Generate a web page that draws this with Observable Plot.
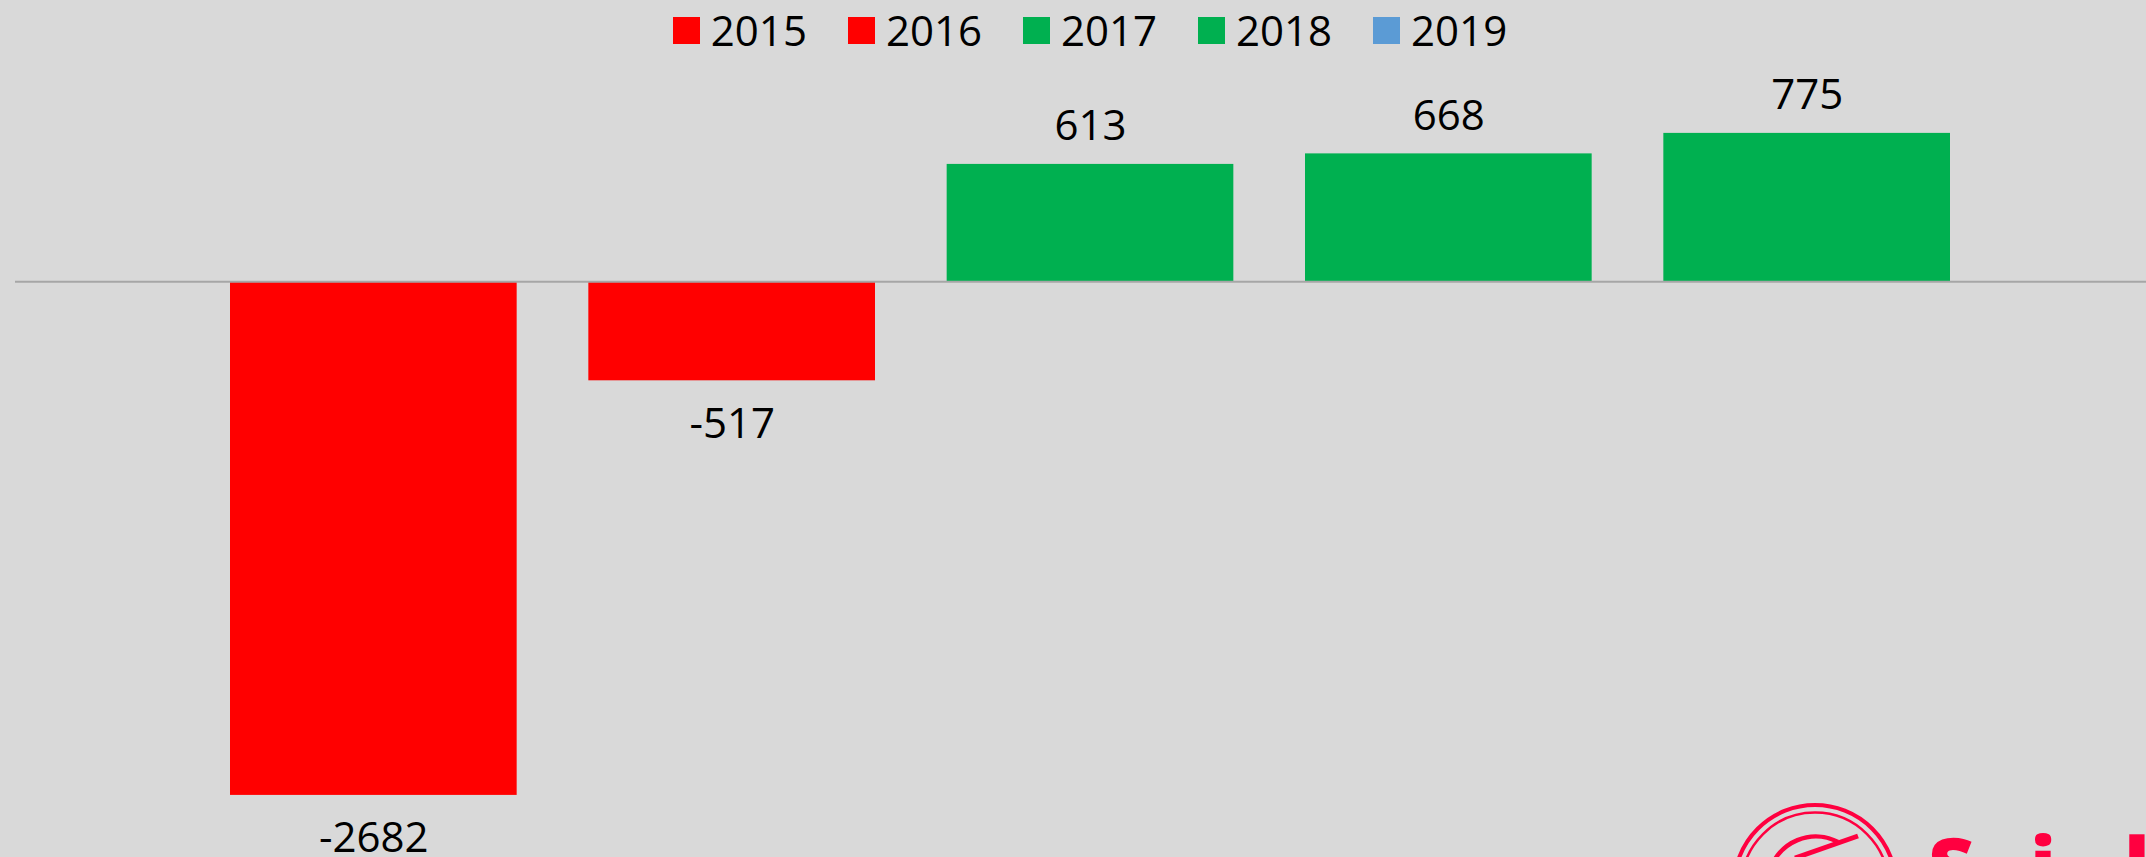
<!DOCTYPE html>
<html>
<head>
<meta charset="utf-8">
<script src="https://cdn.jsdelivr.net/npm/d3@7"></script>
<script src="https://cdn.jsdelivr.net/npm/@observablehq/plot@0.6"></script>
<style>
  html, body { margin: 0; padding: 0; }
  body { width: 2146px; height: 857px; overflow: hidden; background: #d9d9d9; position: relative; font-family: "Open Sans", sans-serif; }
  #legend { position: absolute; left: 0; top: 0; width: 2180px; height: 60px; display: flex; justify-content: center; align-items: center; }
  .item { display: flex; align-items: center; margin: 0 20.5px; font-size: 42px; color: #000; line-height: 1; }
  .sw { width: 27px; height: 27px; margin-right: 11px; }
  #chart { position: absolute; left: 0; top: 60px; }
  #logo { position: absolute; left: 0; top: 0; pointer-events: none; }
</style>
</head>
<body>
<div id="legend"></div>
<div id="chart"></div>
<svg id="logo" width="2146" height="857" viewBox="0 0 2146 857">
  <g fill="none" stroke="#ff0040">
    <circle cx="1815" cy="886" r="81" stroke-width="4"/>
    <circle cx="1815" cy="886" r="73.5" stroke-width="2.5"/>
    <path d="M1770 870 A48 48 0 0 1 1838 842" stroke-width="4.5"/>
    <line x1="1795" y1="858" x2="1858" y2="836" stroke-width="5"/>
  </g>
  <g fill="#ff0040" font-family="Open Sans, sans-serif" font-weight="800" font-size="80">
    <text x="1928" y="895">S</text>
    <text x="2043" y="895" text-anchor="middle">i</text>
    <text x="2124" y="895">l</text>
  </g>
</svg>
<script>
const years = ["2015", "2016", "2017", "2018", "2019"];
const values = [-2682, -517, 613, 668, 775];
const barColors = ["#ff0000", "#ff0000", "#00b050", "#00b050", "#00b050"];
const legendColors = ["#ff0000", "#ff0000", "#00b050", "#00b050", "#5b9bd5"];

const data = years.map((y, i) => ({year: y, value: values[i], color: barColors[i]}));

// legend
const legend = document.getElementById("legend");
years.forEach((y, i) => {
  const it = document.createElement("div");
  it.className = "item";
  const sw = document.createElement("div");
  sw.className = "sw";
  sw.style.background = legendColors[i];
  const t = document.createElement("span");
  t.textContent = y;
  it.appendChild(sw);
  it.appendChild(t);
  legend.appendChild(it);
});

const chart = Plot.plot({
  width: 2146,
  height: 797,
  marginLeft: 15,
  marginRight: 0,
  marginTop: 0,
  marginBottom: 0,
  style: {background: "transparent", fontFamily: "Open Sans, sans-serif"},
  x: {type: "band", domain: years, range: [230, 1950], paddingInner: 0.2, paddingOuter: 0, round: false, axis: null},
  y: {domain: [-3000, 1000], range: [795.8, 29.8], axis: null},
  color: {type: "identity"},
  marks: [
    Plot.barY(data, {x: "year", y: "value", fill: "color"}),
    Plot.ruleY([0], {stroke: "#a6a6a6", strokeWidth: 2}),
    Plot.text(data.filter(d => d.value >= 0), {x: "year", y: "value", text: d => String(d.value), lineAnchor: "bottom", dy: -24, fontSize: 42, fill: "#000"}),
    Plot.text(data.filter(d => d.value < 0), {x: "year", y: "value", text: d => String(d.value), lineAnchor: "top", dy: 27, fontSize: 42, fill: "#000"})
  ]
});
document.getElementById("chart").appendChild(chart);
</script>
</body>
</html>
